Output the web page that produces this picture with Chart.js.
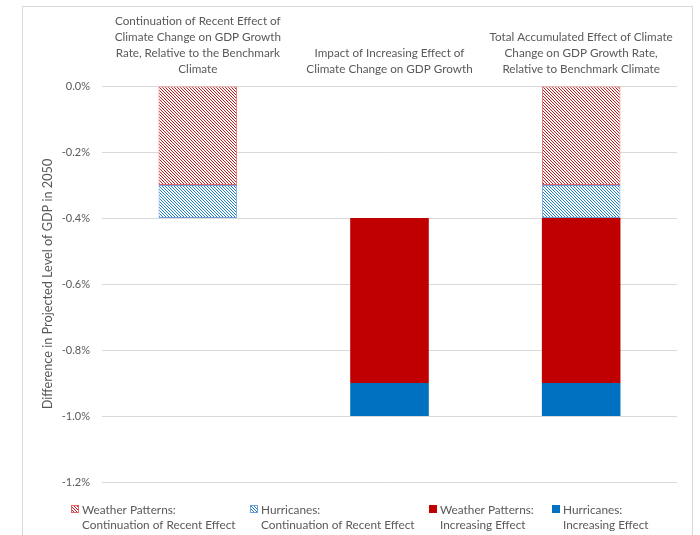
<!DOCTYPE html>
<html>
<head>
<meta charset="utf-8">
<script src="https://cdn.jsdelivr.net/npm/chart.js@4"></script>
<style>
  html, body { margin: 0; padding: 0; background: #fff; }
  #wrap { width: 700px; height: 535px; }
</style>
</head>
<body>
<div id="wrap"><canvas id="gdp-chart" width="700" height="535"></canvas></div>
<script>
// categories (shown above the bars)
const categories = [
    ['Continuation of Recent Effect of', 'Climate Change on GDP Growth', 'Rate, Relative to the Benchmark', 'Climate'],
    ['Impact of Increasing Effect of', 'Climate Change on GDP Growth'],
    ['Total Accumulated Effect of Climate', 'Change on GDP Growth Rate,', 'Relative to Benchmark Climate']
];

// level each bar starts from (percent of GDP)
const startLevel = [0, -0.4, 0];

// size of each component (percent of GDP)
const weatherRecent = [-0.3, null, -0.3];
const hurricanesRecent = [-0.1, null, -0.1];
const weatherIncreasing = [null, -0.5, -0.5];
const hurricanesIncreasing = [null, -0.1, -0.1];

const seriesNames = [
    ['Weather Patterns:', 'Continuation of Recent Effect'],
    ['Hurricanes:', 'Continuation of Recent Effect'],
    ['Weather Patterns:', 'Increasing Effect'],
    ['Hurricanes:', 'Increasing Effect']
];

const yTicks = [0, -0.2, -0.4, -0.6, -0.8, -1.0, -1.2];

const RED = '#C00000';
const BLUE = '#0070C0';
const GREY_TEXT = '#595959';
const FONT = 'Lato, "Liberation Sans", sans-serif';

function hatch(color) {
    const c = document.createElement('canvas');
    c.width = 3;
    c.height = 3;
    const g = c.getContext('2d');
    g.fillStyle = '#fff';
    g.fillRect(0, 0, 3, 3);
    g.strokeStyle = color;
    g.lineWidth = 0.9;
    g.beginPath();
    g.moveTo(-1, -1); g.lineTo(4, 4);
    g.moveTo(-1, 2); g.lineTo(1, 4);
    g.moveTo(2, -1); g.lineTo(4, 1);
    g.stroke();
    return g.createPattern(c, 'repeat');
}

// turn component sizes into floating [top, bottom] ranges
const series = [weatherRecent, hurricanesRecent, weatherIncreasing, hurricanesIncreasing];
const running = startLevel.slice();
const ranges = series.map(values => values.map((v, i) => {
    if (v === null) return null;
    const r = [running[i], running[i] + v];
    running[i] += v;
    return r;
}));

const fills = [hatch(RED), hatch(BLUE), RED, BLUE];
const borders = ['#E06666', '#6F9FD8', RED, BLUE];

const datasets = ranges.map((data, k) => ({
    label: seriesNames[k].join(' '),
    data: data,
    backgroundColor: fills[k],
    borderColor: borders[k],
    borderWidth: k < 2 ? 1 : 0,
    borderSkipped: false,
    grouped: false,
    categoryPercentage: 1,
    barPercentage: 0.41
}));

const frame = {
    id: 'frame',
    beforeDraw(chart) {
        const ctx = chart.ctx;
        ctx.save();
        ctx.fillStyle = '#fff';
        ctx.fillRect(0, 0, chart.width, chart.height);
        ctx.strokeStyle = '#D9D9D9';
        ctx.lineWidth = 1;
        ctx.strokeRect(22.5, 6.5, 670, 540);
        ctx.restore();
    }
};

// legend with two-line labels along the bottom
const legendX = [71, 250, 429, 552];
const bottomLegend = {
    id: 'bottomLegend',
    afterDraw(chart) {
        const ctx = chart.ctx;
        ctx.save();
        ctx.font = '11.8px ' + FONT;
        ctx.textBaseline = 'middle';
        seriesNames.forEach((lines, k) => {
            const x = legendX[k];
            ctx.fillStyle = fills[k];
            ctx.fillRect(x, 505, 8, 8);
            if (k < 2) {
                ctx.strokeStyle = borders[k];
                ctx.strokeRect(x + 0.5, 505.5, 7, 7);
            }
            ctx.fillStyle = GREY_TEXT;
            ctx.fillText(lines[0], x + 11, 510);
            ctx.fillText(lines[1], x + 11, 525);
        });
        ctx.restore();
    }
};

new Chart(document.getElementById('gdp-chart'), {
    type: 'bar',
    data: {
        labels: categories,
        datasets: datasets
    },
    options: {
        responsive: false,
        animation: false,
        layout: { padding: { left: 0, right: 23, top: 0, bottom: 53 } },
        plugins: {
            legend: { display: false },
            tooltip: { enabled: false }
        },
        scales: {
            x: {
                position: 'top',
                grid: { display: false },
                border: { display: false },
                ticks: {
                    autoSkip: false,
                    maxRotation: 0,
                    padding: 1,
                    color: GREY_TEXT,
                    font: { family: FONT, size: 11.7, lineHeight: '16px' }
                },
                afterFit(scale) { scale.height = 86; }
            },
            y: {
                min: -1.2,
                max: 0,
                afterBuildTicks(scale) { scale.ticks = yTicks.map(v => ({ value: v })); },
                grid: { color: '#D9D9D9', drawTicks: false },
                border: { display: false },
                ticks: {
                    padding: 12,
                    color: GREY_TEXT,
                    font: { family: FONT, size: 11 },
                    callback: v => v.toFixed(1) + '%'
                },
                title: {
                    display: true,
                    text: 'Difference in Projected Level of GDP in 2050',
                    color: GREY_TEXT,
                    font: { family: FONT, size: 12.7 },
                    padding: { top: 40, bottom: 0 }
                },
                afterFit(scale) { scale.width = 102; }
            }
        }
    },
    plugins: [frame, bottomLegend]
});
</script>
</body>
</html>
